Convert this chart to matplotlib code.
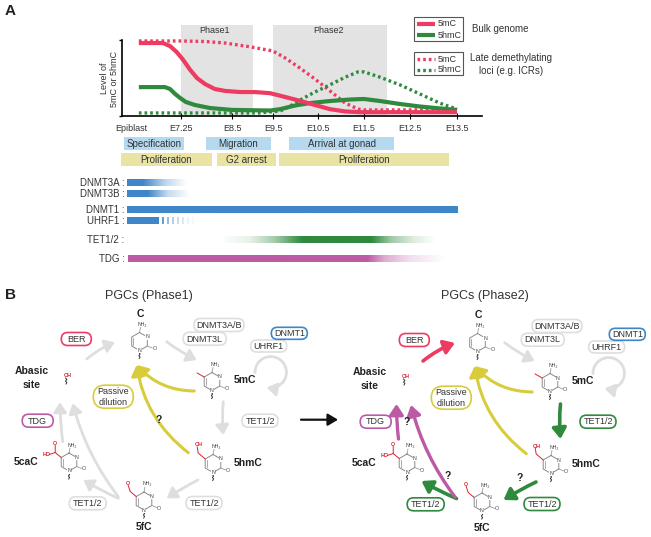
import numpy as np
import matplotlib
matplotlib.use("Agg")
import matplotlib.pyplot as plt
from matplotlib.patches import FancyArrowPatch, FancyBboxPatch, Rectangle

plt.rcParams['font.family'] = ['Liberation Sans', 'DejaVu Sans']

# panel A curves: embryonic day and level
bulk_5mc_day = [6.25, 6.82, 6.99, 7.15, 7.30, 7.47, 7.64, 7.84, 8.08, 8.33, 8.70, 9.06, 9.43, 9.77, 10.10, 10.43, 10.76, 11.09, 11.41, 13.5]
bulk_5mc_val = [.96, .96, .92, .84, .74, .61, .50, .42, .355, .33, .315, .315, .30, .25, .20, .145, .09, .06, .05, .05]
bulk_5hmc_day = [6.25, 6.87, 6.99, 7.11, 7.23, 7.37, 7.59, 7.96, 8.5, 9.43, 9.66, 9.99, 10.32, 10.76, 11.2, 11.5, 11.85, 12.28, 12.71, 13.13, 13.5]
bulk_5hmc_val = [.38, .38, .355, .29, .237, .184, .145, .105, .08, .072, .09, .138, .17, .197, .217, .224, .197, .158, .125, .10, .08]
late_5mc_day = [6.25, 7.25, 7.84, 8.33, 8.94, 9.5, 9.77, 10.1, 10.43, 10.76, 11.09, 11.37, 11.5, 13.5]
late_5mc_val = [.987, .987, .98, .96, .91, .855, .763, .63, .487, .33, .17, .092, .08, .08]
late_5hmc_day = [6.25, 9.18, 9.66, 9.88, 10.1, 10.43, 10.76, 11.09, 11.37, 11.5, 11.85, 12.28, 12.71, 13.13, 13.5]
late_5hmc_val = [.04, .04, .066, .13, .21, .315, .41, .51, .58, .58, .51, .41, .29, .17, .09]

stage_days = [6.08, 7.25, 8.5, 9.5, 10.5, 11.5, 12.5, 13.5]
stage_labels = ['Epiblast', 'E7.25', 'E8.5', 'E9.5', 'E10.5', 'E11.5', 'E12.5', 'E13.5']
phase_names = ['Phase1', 'Phase2']
phase_start = [7.25, 9.5]
phase_end = [9.0, 12.0]
phase_label_day = [8.06, 10.72]

RED = '#EE3B62'
GREEN = '#2F8A3E'
BLUE = '#3F86C8'
MAGENTA = '#BC5AA6'
YELLOW = '#D8CC3C'
GRAY = '#DEDEDE'
TXT = '#333333'

# x scale of the time axis is not uniform in the figure
scale_day = [5.85, 7.25, 8.5, 9.5, 10.5, 11.5, 12.5, 13.5, 14.0]
scale_px = [122, 181, 232, 273, 318, 364, 410, 457, 482]


def day_to_px(d):
    return np.interp(d, scale_day, scale_px)


def px_to_day(p):
    return np.interp(p, scale_px, scale_day)


fig = plt.figure(figsize=(6.51, 5.37), dpi=100)

# pixel canvas for all the diagram parts
bg = fig.add_axes([0, 0, 1, 1])
bg.set_axis_off()

# chart axes
ax = fig.add_axes([122 / 651, (537 - 116) / 537, 360 / 651, 91 / 537])
ax.patch.set_alpha(0)
ax.set_xscale('function', functions=(day_to_px, px_to_day))
ax.set_xlim(5.85, 14.0)
ax.set_ylim(0, 1.197)
for s, e, lx, name in zip(phase_start, phase_end, phase_label_day, phase_names):
    ax.axvspan(s, e, color='#E3E3E3', lw=0, zorder=0)
    ax.text(lx, 1.13, name, ha='center', va='center', fontsize=6.5, color=TXT)
ax.plot(late_5mc_day, late_5mc_val, color=RED, lw=2.4, ls=(0, (0.8, 0.9)), zorder=2)
ax.plot(late_5hmc_day, late_5hmc_val, color=GREEN, lw=2.4, ls=(0, (0.8, 0.9)), zorder=2)
ax.plot(bulk_5hmc_day, bulk_5hmc_val, color=GREEN, lw=3, solid_capstyle='butt', zorder=3)
ax.plot(bulk_5mc_day, bulk_5mc_val, color=RED, lw=3, solid_capstyle='butt', zorder=3)
for side in ['top', 'right']:
    ax.spines[side].set_visible(False)
ax.spines['left'].set_bounds(0, 1)
ax.spines['left'].set_linewidth(1.2)
ax.spines['bottom'].set_linewidth(1.2)
ax.set_yticks([0, 1])
ax.set_yticklabels([])
ax.tick_params(axis='y', length=2.5, width=1, direction='out')
ax.set_xticks(stage_days)
ax.set_xticklabels(stage_labels, fontsize=6.5, color=TXT)
ax.minorticks_off()
ax.tick_params(axis='x', length=4, width=0.8, direction='inout', pad=3.5)
ax.get_xticklines()[0].set_visible(False)
ax.set_ylabel('Level of\n5mC or 5hmC', fontsize=6.5, color=TXT, labelpad=1, linespacing=1.15)
ax.yaxis.set_label_coords(-0.007, 0.41)


def pill(x, y, w, h, text, edge, lw=1.2, fs=6.5):
    bg.add_patch(FancyBboxPatch((x - w / 2 + h / 2, y), w - h, 0,
                                boxstyle='round,pad=%f,rounding_size=%f' % (h / 2, h / 2),
                                fc='white', ec=edge, lw=lw, zorder=4))
    bg.text(x, y + 0.3, text, ha='center', va='center', fontsize=fs, color=TXT, zorder=5, linespacing=1.25)


def arrow(p, q, color, rad=0.0, lw=2.0, head=(0.42, 0.28), ms=14):
    bg.add_patch(FancyArrowPatch(p, q, connectionstyle='arc3,rad=%f' % rad,
                                 arrowstyle='-|>,head_length=%f,head_width=%f' % head,
                                 mutation_scale=ms, color=color, lw=lw,
                                 shrinkA=0, shrinkB=0, zorder=3))


def loop_arrow(cx, cy, r, color):
    # goes over the top, round the right side and back under
    t = np.radians(np.linspace(180, -35, 50))
    bg.plot(cx + r * np.cos(t), cy - r * np.sin(t), color=color, lw=2.0, zorder=3)
    end = np.radians(-105)
    arrow((cx + r * np.cos(t[-1]), cy - r * np.sin(t[-1])), (cx + r * np.cos(end), cy - r * np.sin(end)), color, -0.3)


def gradient_bar(x0, x1, y, color, stops_x, stops_a, h=7):
    xs = np.linspace(x0, x1, 300)
    img = np.ones((1, 300, 4))
    img[..., :3] = matplotlib.colors.to_rgb(color)
    img[0, :, 3] = np.interp(xs, stops_x, stops_a)
    bg.imshow(img, extent=(x0, x1, y + h / 2, y - h / 2), aspect='auto', interpolation='bilinear', zorder=2)


# stage strips
blue_bars = [(124, 184, 'Specification'), (206, 271, 'Migration'), (289, 394, 'Arrival at gonad')]
yellow_bars = [(121, 212, 'Proliferation'), (217, 276, 'G2 arrest'), (279, 449, 'Proliferation')]
for x0, x1, name in blue_bars:
    bg.add_patch(Rectangle((x0, 137), x1 - x0, 13, fc='#B5DAF0', ec='none'))
    bg.text((x0 + x1) / 2, 143.8, name, ha='center', va='center', fontsize=7, color=TXT)
for x0, x1, name in yellow_bars:
    bg.add_patch(Rectangle((x0, 153), x1 - x0, 13, fc='#E9E4A3', ec='none'))
    bg.text((x0 + x1) / 2, 159.8, name, ha='center', va='center', fontsize=7, color=TXT)

# enzyme expression bars
for y, name in [(183, 'DNMT3A :'), (194, 'DNMT3B :'), (210, 'DNMT1 :'), (221, 'UHRF1 :'), (240, 'TET1/2 :'), (259, 'TDG :')]:
    bg.text(124.5, y, name, ha='right', va='center', fontsize=7, color=TXT)
gradient_bar(127, 187, 183, BLUE, [127, 143, 165, 187], [1, 1, 0.35, 0])
gradient_bar(127, 190, 194, BLUE, [127, 148, 168, 190], [1, 1, 0.3, 0])
gradient_bar(127, 458, 210, BLUE, [127, 458], [1, 1])
gradient_bar(127, 159, 221, BLUE, [127, 159], [1, 1])
for x, a in zip([163, 168, 173, 178, 183, 188, 193], [0.8, 0.55, 0.4, 0.28, 0.18, 0.1, 0.05]):
    gradient_bar(x - 1, x + 1, 221, BLUE, [x - 1, x + 1], [a, a])
gradient_bar(220, 436, 240, GREEN, [220, 250, 275, 302, 372, 392, 415, 436], [0, 0.12, 0.45, 1, 1, 0.45, 0.15, 0])
gradient_bar(128, 446, 259, MAGENTA, [128, 368, 385, 410, 446], [1, 1, 0.5, 0.2, 0])

# legend boxes
for y0, y1 in [(17, 41), (52, 75)]:
    bg.add_patch(Rectangle((414, y0), 49, y1 - y0, fc='white', ec='#555555', lw=0.8))
bg.plot([417, 435], [24, 24], color=RED, lw=3, solid_capstyle='butt')
bg.plot([417, 435], [35, 35], color=GREEN, lw=3, solid_capstyle='butt')
bg.plot([417, 435], [59, 59], color=RED, lw=2.4, ls=(0, (0.8, 0.9)))
bg.plot([417, 435], [69.5, 69.5], color=GREEN, lw=2.4, ls=(0, (0.8, 0.9)))
for y, name in [(24, '5mC'), (35, '5hmC'), (59, '5mC'), (69.5, '5hmC')]:
    bg.text(437.5, y, name, va='center', fontsize=6.5, color=TXT)
bg.text(472, 28.5, 'Bulk genome', va='center', fontsize=7, color=TXT)
bg.text(511, 64.5, 'Late demethylating\nloci (e.g. ICRs)', ha='center', va='center', fontsize=7, color=TXT, linespacing=1.3)

bg.text(5, 11, 'A', fontsize=11, fontweight='bold', va='center', color='#222222')
bg.text(5, 295, 'B', fontsize=11, fontweight='bold', va='center', color='#222222')


def molecule(cx, cy, kind):
    ang = np.radians([90, 30, -30, -90, -150, 150, 90])
    # y is inverted on the canvas
    vx = cx + 9 * np.cos(ang)
    vy = cy - 9 * np.sin(ang)
    bg.plot(vx, vy, color='#8A8A8A', lw=0.7, zorder=2)
    bg.plot([vx[4] + 1.5, vx[5] + 1.5], [vy[4] - 1, vy[5] + 1], color='#8A8A8A', lw=0.5, zorder=2)
    bg.plot([vx[0], vx[0] + 1], [vy[0], vy[0] - 5], color='#8A8A8A', lw=0.5, zorder=2)
    bg.plot([vx[2], vx[2] + 5], [vy[2], vy[2] + 2], color='#8A8A8A', lw=0.5, zorder=2)
    small = dict(ha='center', va='center', fontsize=3.8, color='#444444', zorder=3)
    bg.text(vx[0] + 3, vy[0] - 8, 'NH₂', **small)
    for i in (1, 3):
        bg.text(vx[i], vy[i], 'N', bbox=dict(fc='white', ec='none', pad=0.2), **small)
    bg.text(vx[2] + 7.5, vy[2] + 2.5, 'O', **small)
    # squiggle to the sugar
    bg.plot([vx[3] - 0.6, vx[3] + 0.6, vx[3] - 0.6, vx[3] + 0.6, vx[3] - 0.3],
            [vy[3] + 2, vy[3] + 3.5, vy[3] + 5, vy[3] + 6.5, vy[3] + 8], color='#333333', lw=0.7, zorder=2)
    # red substituent on C5
    sx, sy = vx[5], vy[5]
    red = dict(ha='center', va='center', fontsize=3.8, color='#D8232F', fontweight='bold', zorder=3)
    if kind == '5mC':
        bg.plot([sx, sx - 7], [sy, sy - 4], color='#D8232F', lw=0.7, zorder=2)
    elif kind == '5hmC':
        bg.plot([sx, sx - 7, sx - 8], [sy, sy - 6, sy - 12], color='#D8232F', lw=0.7, zorder=2)
        bg.text(sx - 6.5, sy - 14, 'OH', **red)
    elif kind == '5fC':
        bg.plot([sx, sx - 6, sx - 8], [sy, sy - 5, sy - 11], color='#D8232F', lw=0.7, zorder=2)
        bg.text(sx - 8, sy - 13, 'O', **red)
    elif kind == '5caC':
        bg.plot([sx, sx - 6, sx - 6], [sy, sy - 5, sy - 12], color='#D8232F', lw=0.7, zorder=2)
        bg.plot([sx - 6, sx - 12], [sy - 5, sy - 3], color='#D8232F', lw=0.7, zorder=2)
        bg.text(sx - 6, sy - 14, 'O', **red)
        bg.text(sx - 15, sy - 3, 'HO', **red)


def cycle(dx, dy, title, title_x, phase2):
    bg.text(title_x, 296, title, ha='center', va='center', fontsize=9, color=TXT)
    for cx, cy, kind in [(139.5, 341.5, 'C'), (212, 381.5, '5mC'), (213, 463.5, '5hmC'), (144, 501, '5fC'), (69, 462, '5caC')]:
        molecule(cx + dx, cy + dy, kind)
    # abasic site
    bg.text(67.7 + dx, 375.5 + dy, 'OH', ha='center', va='center', fontsize=3.8, color='#D8232F', fontweight='bold')
    bg.plot(np.array([65.5, 66.9, 65.5, 66.9, 66.0]) + dx, np.array([378, 379.5, 381, 382.5, 384]) + dy, color='#333333', lw=0.7)
    bold = dict(ha='center', va='center', fontsize=7.5, fontweight='bold', color='#222222')
    for x, y, name in [(140.7, 314, 'C'), (245, 380, '5mC'), (248, 463, '5hmC'), (144, 527, '5fC'), (26, 462, '5caC')]:
        bg.text(x + dx, y + dy, name, **bold)
    bg.text(31.7 + dx, 378 + dy, 'Abasic\nsite', linespacing=1.45, **bold)

    tet_edge = GREEN if phase2 else GRAY
    pill(219 + dx, 325 + dy, 50, 13, 'DNMT3A/B', GRAY)
    pill(204.7 + dx, 338.7 + dy, 43, 13, 'DNMT3L', GRAY)
    pill(268.7 + dx, 346 + dy, 36, 12, 'UHRF1', GRAY)
    pill(289.3 + dx, 333.3 + dy, 36, 12, 'DNMT1', BLUE)
    pill(76.3 + dx, 339 + dy, 30, 13, 'BER', RED)
    pill(37.7 + dx, 420.7 + dy, 31, 13, 'TDG', MAGENTA)
    pill(113.3 + dx, 396.7 + dy, 40, 23, 'Passive\ndilution', YELLOW)
    pill(260 + dx, 420.7 + dy, 36, 13, 'TET1/2', tet_edge)
    pill(204 + dx, 503 + dy, 36, 13, 'TET1/2', tet_edge)
    pill(87.7 + dx, 503.3 + dy, 37, 13, 'TET1/2', tet_edge)

    def a(x0, y0, x1, y1, color, rad=0.0, **kw):
        arrow((x0 + dx, y0 + dy), (x1 + dx, y1 + dy), color, rad, **kw)

    a(166.7, 341.7, 196.7, 360, GRAY, 0.05)
    loop_arrow(270.7 + dx, 372.3 + dy, 15.7, GRAY)
    a(194.3, 391, 136.7, 365, YELLOW, -0.22, lw=2.2, ms=15)
    a(188.3, 452.7, 136.7, 365, YELLOW, -0.2, lw=2.2, ms=15)
    if phase2:
        a(85, 360, 117, 342, RED, -0.08, lw=2.6, ms=15)
        a(222.5, 403, 222.5, 438, GREEN, 0.05, lw=2.6, ms=15)
        a(198, 481, 165.5, 499, GREEN, 0.03, lw=2.6, ms=15)
        a(118.5, 497.5, 83.5, 480, GREEN, -0.03, lw=2.6, ms=15)
        a(60.5, 438, 58.5, 403, MAGENTA, -0.03, lw=2.4, ms=15)
        a(117, 496, 73, 404, MAGENTA, -0.1, lw=2.4, ms=15)
    else:
        a(86.7, 359, 115, 342.3, GRAY, -0.08)
        a(223.3, 401.7, 223.3, 435, GRAY, 0.05)
        a(198, 480, 166.7, 498.3, GRAY, 0.03)
        a(118.3, 498.3, 83.3, 480, GRAY, -0.03)
        a(62.7, 441.7, 60, 402.3, GRAY, -0.03)
        a(118.3, 496.7, 72.7, 403.3, GRAY, -0.1)


cycle(0, 0, 'PGCs (Phase1)', 148.5, False)
cycle(338, 1, 'PGCs (Phase2)', 485, True)

question = dict(ha='center', va='center', fontsize=7.5, fontweight='bold', color='#222222')
for x, y in [(158.7, 420), (406.7, 421.7), (447.7, 476.3), (520, 477.7)]:
    bg.text(x, y, '?', **question)

arrow((301, 419.7), (338, 419.7), '#111111', 0, lw=1.6, head=(0.5, 0.3), ms=12)

bg.set_xlim(0, 651)
bg.set_ylim(537, 0)

fig.savefig('out.png', dpi=100)
